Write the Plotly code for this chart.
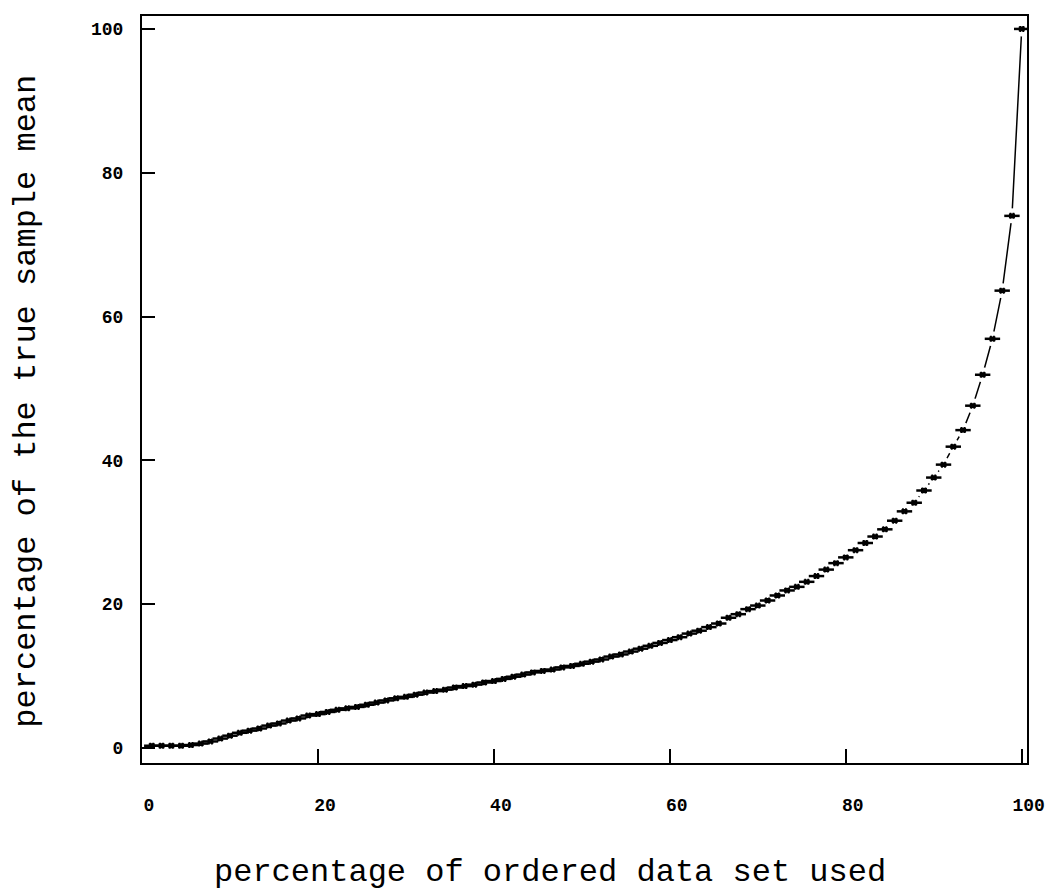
import plotly.graph_objects as go

# x: percentage of ordered data set used (90 ordered observations)
pct_data_used = [
    1.11, 2.22, 3.33, 4.44, 5.56, 6.67, 7.78, 8.89, 10.0,
    11.11, 12.22, 13.33, 14.44, 15.56, 16.67, 17.78, 18.89, 20.0,
    21.11, 22.22, 23.33, 24.44, 25.56, 26.67, 27.78, 28.89, 30.0,
    31.11, 32.22, 33.33, 34.44, 35.56, 36.67, 37.78, 38.89, 40.0,
    41.11, 42.22, 43.33, 44.44, 45.56, 46.67, 47.78, 48.89, 50.0,
    51.11, 52.22, 53.33, 54.44, 55.56, 56.67, 57.78, 58.89, 60.0,
    61.11, 62.22, 63.33, 64.44, 65.56, 66.67, 67.78, 68.89, 70.0,
    71.11, 72.22, 73.33, 74.44, 75.56, 76.67, 77.78, 78.89, 80.0,
    81.11, 82.22, 83.33, 84.44, 85.56, 86.67, 87.78, 88.89, 90.0,
    91.11, 92.22, 93.33, 94.44, 95.56, 96.67, 97.78, 98.89, 100.0,
]

# y: percentage of the true sample mean
pct_true_mean = [
    0.3, 0.3, 0.3, 0.3, 0.4, 0.6, 0.9, 1.3, 1.7,
    2.1, 2.4, 2.7, 3.1, 3.4, 3.8, 4.1, 4.5, 4.7,
    5.0, 5.3, 5.5, 5.7, 6.0, 6.3, 6.6, 6.9, 7.1,
    7.4, 7.7, 7.9, 8.1, 8.4, 8.6, 8.8, 9.1, 9.3,
    9.6, 9.9, 10.2, 10.5, 10.7, 10.9, 11.2, 11.4, 11.7,
    12.0, 12.3, 12.7, 13.0, 13.4, 13.8, 14.2, 14.6, 15.0,
    15.4, 15.9, 16.3, 16.8, 17.3, 18.1, 18.6, 19.3, 19.8,
    20.5, 21.2, 21.9, 22.4, 23.1, 23.9, 24.8, 25.7, 26.5,
    27.5, 28.5, 29.4, 30.4, 31.6, 32.9, 34.1, 35.8, 37.6,
    39.4, 41.9, 44.2, 47.6, 51.9, 56.9, 63.6, 74.0, 100.0,
]

x_tick_vals = [0, 20, 40, 60, 80, 100]
x_tick_text = ["0", "20", "40", "60", "80", "100"]
y_tick_vals = [0, 20, 40, 60, 80, 100]
y_tick_text = ["0", "20", "40", "60", "80", "100"]

x_title = "percentage of ordered data set used"
y_title = "percentage of the true sample mean"

FONT = "Liberation Mono"

fig = go.Figure()

# connecting line
fig.add_trace(go.Scatter(
    x=pct_data_used, y=pct_true_mean, mode="lines",
    line=dict(color="black", width=1.5), hoverinfo="skip",
))
# white halo so the line shows only in the wide gaps
fig.add_trace(go.Scatter(
    x=pct_data_used, y=pct_true_mean, mode="markers",
    marker=dict(symbol="circle", size=15, color="white", line=dict(width=0)),
    hoverinfo="skip",
))
# plotted points: horizontal bar ...
fig.add_trace(go.Scatter(
    x=pct_data_used, y=pct_true_mean, mode="markers",
    marker=dict(symbol="line-ew", size=11, color="black",
                line=dict(color="black", width=2.5)),
    hoverinfo="skip",
))
# ... with small crossing ticks
fig.add_trace(go.Scatter(
    x=pct_data_used, y=pct_true_mean, mode="markers",
    marker=dict(symbol="hash", size=6, color="black",
                line=dict(color="black", width=1.8)),
))

axis_common = dict(
    showline=True, linecolor="black", linewidth=2, mirror=True,
    ticks="inside", tickwidth=2, tickcolor="black",
    showgrid=False, zeroline=False,
    tickfont=dict(family=FONT, size=18, color="black", weight="bold"),
)

fig.update_layout(
    width=1056, height=892, autosize=False,
    margin=dict(l=142, r=29, t=16, b=129),
    paper_bgcolor="white", plot_bgcolor="white",
    showlegend=False,
    xaxis=dict(range=[0, 100.6], tickvals=x_tick_vals, ticktext=x_tick_text,
               ticklen=14, ticklabelstandoff=24, ticklabelshift=7, **axis_common),
    yaxis=dict(range=[-2.1, 101.8], tickvals=y_tick_vals, ticktext=y_tick_text,
               ticklen=13, ticklabelstandoff=13, **axis_common),
    annotations=[
        dict(text=x_title, xref="paper", yref="paper", x=0.461, y=-0.147,
             xanchor="center", yanchor="middle", showarrow=False,
             font=dict(family=FONT, size=32, color="black")),
        dict(text=y_title, xref="paper", yref="paper", x=-0.130, y=0.485,
             xanchor="center", yanchor="middle", textangle=-90, showarrow=False,
             font=dict(family=FONT, size=32, color="black")),
    ],
)

fig.write_html("out.html")
